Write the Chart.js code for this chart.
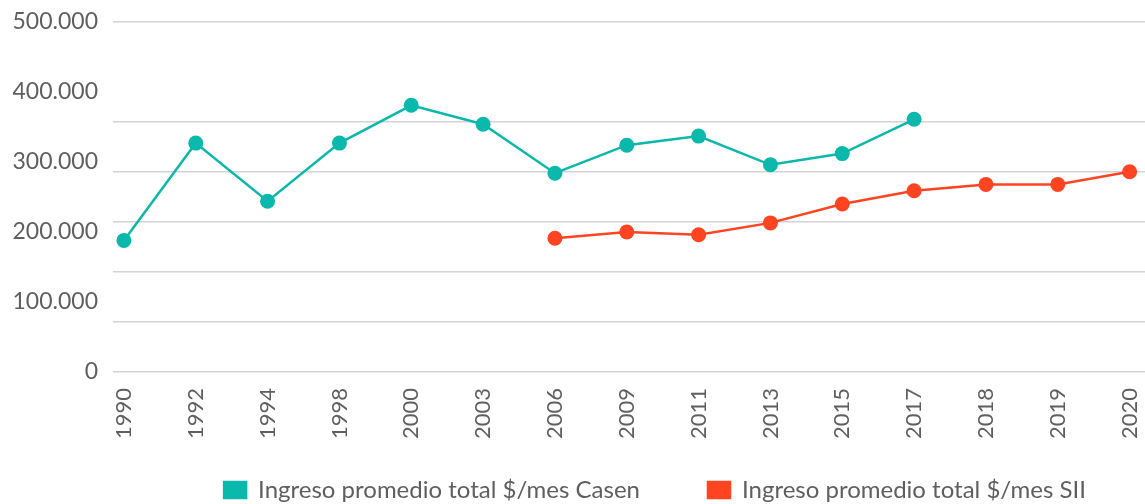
<!DOCTYPE html>
<html>
<head>
<meta charset="utf-8">
<script src="https://cdn.jsdelivr.net/npm/chart.js@4"></script>
<style>
  html, body { margin: 0; padding: 0; background: #fff; overflow: hidden; }
  #wrap { width: 1310px; height: 504px; }
</style>
</head>
<body>
<div id="wrap"><canvas id="chartIngreso" width="1310" height="504"></canvas></div>
<script>
// datos
const years = ['1990', '1992', '1994', '1998', '2000', '2003', '2006', '2009', '2011', '2013', '2015', '2017', '2018', '2019', '2020'];
const casen = [188000, 327000, 244000, 327000, 381000, 354000, 284000, 324000, 337000, 296000, 312000, 361000, null, null, null];
const sii = [null, null, null, null, null, null, 191000, 200000, 196000, 213000, 240000, 259000, 268000, 268000, 286000];
const yTicks = [0, 100000, 200000, 300000, 400000, 500000];
// lineas de division del original (no coinciden con las etiquetas)
const gridLines = [0, 50, 100, 150, 200, 250, 350];

const textColor = '#5f5f5f';

function miles(v) {
    return String(v).replace(/\B(?=(\d{3})+(?!\d))/g, '.');
}

// sube el borde superior de la leyenda (su clip) para que el padding grande quepa
const legendNudge = {
    id: 'legendNudge',
    afterLayout(chart, args, opts) {
        const lg = chart.legend;
        if (!lg) return;
        lg.top += opts.dy;
    }
};

document.addEventListener("DOMContentLoaded", function() {
    const ctx = document.getElementById('chartIngreso');

    new Chart(ctx, {
        type: 'line',
        data: {
            datasets: [{
                label: 'Ingreso promedio total $/mes Casen',
                data: casen.map((v, i) => ({ x: i, y: v })),
                borderColor: '#0ab8ac',
                backgroundColor: '#0ab8ac',
                borderWidth: 2.5,
                pointRadius: 7.5,
                pointBorderWidth: 0,
                tension: 0
            }, {
                label: 'Ingreso promedio total $/mes SII',
                data: sii.map((v, i) => ({ x: i, y: v })),
                borderColor: '#ff4422',
                backgroundColor: '#ff4422',
                borderWidth: 2.5,
                pointRadius: 7.5,
                pointBorderWidth: 0,
                tension: 0
            }]
        },
        plugins: [legendNudge],
        options: {
            responsive: false,
            animation: false,
            layout: { padding: { top: 22, left: 0, right: 0, bottom: 0 } },
            plugins: {
                tooltip: { enabled: false },
                legendNudge: { dy: -32 },
                legend: {
                    position: 'bottom',
                    maxHeight: 62,
                    labels: {
                        boxWidth: 22,
                        boxHeight: 16,
                        padding: 68,
                        color: textColor,
                        font: { family: 'Lato', size: 24 }
                    }
                }
            },
            scales: {
                x: {
                    type: 'linear',
                    min: -0.152,
                    max: 16.407,
                    grid: { display: false, drawTicks: false },
                    border: { display: false },
                    afterBuildTicks: axis => { axis.ticks = years.map((_, i) => ({ value: i })); },
                    afterFit: axis => { axis.height = 70; },
                    ticks: {
                        autoSkip: false,
                        minRotation: 90,
                        maxRotation: 90,
                        padding: 16,
                        color: textColor,
                        font: { family: 'Lato', size: 22 },
                        callback: v => years[v]
                    }
                },
                y: {
                    position: 'left',
                    min: 0,
                    max: 500000,
                    grid: { display: false, drawTicks: true, tickLength: 15 },
                    border: { display: false },
                    afterBuildTicks: axis => { axis.ticks = yTicks.map(v => ({ value: v })); },
                    afterFit: axis => { axis.width = 113; },
                    ticks: {
                        padding: 0,
                        color: textColor,
                        font: { family: 'Lato', size: 23 },
                        callback: v => miles(v)
                    }
                },
                yg: {
                    position: 'left',
                    min: 0,
                    max: 350,
                    border: { display: false },
                    grid: { color: '#d3d3d3', lineWidth: 1.4, drawTicks: false },
                    afterBuildTicks: axis => { axis.ticks = gridLines.map(v => ({ value: v })); },
                    afterFit: axis => { axis.width = 0; },
                    ticks: { display: false }
                }
            }
        }
    });
});
</script>
</body>
</html>
